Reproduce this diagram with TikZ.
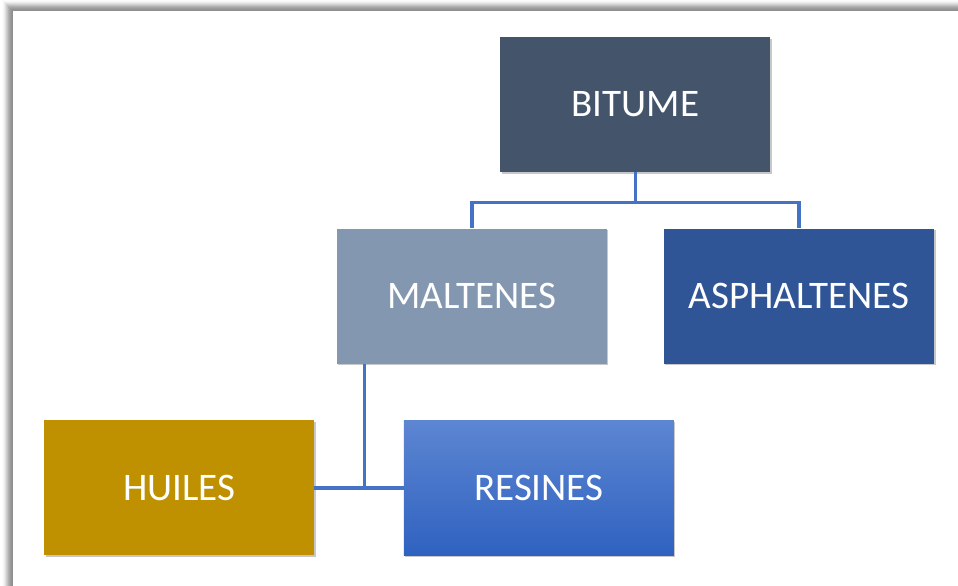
\documentclass[tikz,border=0pt]{standalone}
\usepackage{fontspec}
\setmainfont{Carlito}
\definecolor{bitumeCol}{HTML}{44546A}
\definecolor{maltCol}{HTML}{8497B0}
\definecolor{asphCol}{HTML}{2F5597}
\definecolor{huileCol}{HTML}{BF9000}
\definecolor{resTop}{HTML}{5D86D2}
\definecolor{resBot}{HTML}{2F62C0}
\definecolor{linkCol}{HTML}{4472C4}
\tikzset{
  box/.style={minimum width=270pt,minimum height=135pt,inner sep=0pt,
    text=white,font=\fontsize{39}{44}\selectfont,
    preaction={fill=black!22,transform canvas={shift={(1.5pt,-1.5pt)}}}},
  link/.style={draw=linkCol,line width=3.5pt}
}
\begin{document}
\begin{tikzpicture}[x=1pt,y=-1pt]
    \pgfmathsetmacro{\boxLeft}{13}
    \pgfmathsetmacro{\boxTop}{11}

    % Rahmen
    \useasboundingbox (0,0) rectangle (957.4,585.6);
    \fill[white] (-5,-5) rectangle (965,595);
    \foreach \i/\c in {0/44,1/42,2/39,3/35,4/30,5/24,6/18,7/12,8/7,9/3,10/1} {
      \draw[line width=1pt,black!\c] (\boxLeft-\i-0.5,595) -- (\boxLeft-\i-0.5,\boxTop-\i-0.5) -- (965,\boxTop-\i-0.5);
    }

    % Kaesten
    \node[box,fill=bitumeCol] (bitume) at (635,104.5) {BITUME};
    \node[box,fill=maltCol] (maltenes) at (471.5,296) {MALTENES};
    \node[box,fill=asphCol] (asphaltenes) at (798.5,296) {ASPHALTENES};
    \node[box,fill=huileCol] (huiles) at (179,487.5) {HUILES};
    \node[box,top color=resTop,bottom color=resBot] (resines) at (538.5,487.5) {RESINES};

    % Verbindungen
    \draw[link] (bitume.south) -- ++(0,30) -| (maltenes.north);
    \draw[link] (bitume.south) -- ++(0,30) -| (asphaltenes.north);
    \coordinate (maltFoot) at ([xshift=28pt]maltenes.south west);
    \draw[link] (maltFoot) |- (huiles.east);
    \draw[link] (huiles.east) -- (resines.west);
\end{tikzpicture}
\end{document}
